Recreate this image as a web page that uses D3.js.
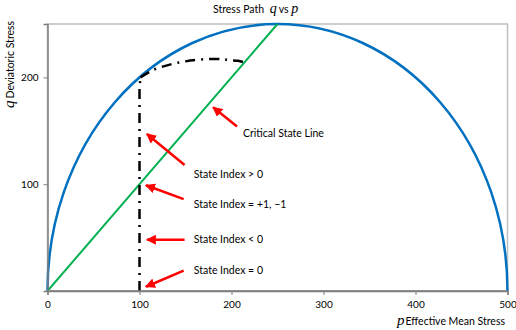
<!DOCTYPE html>
<html><head><meta charset="utf-8">
<script src="https://cdn.jsdelivr.net/npm/d3@7"></script>
<style>
body{margin:0;background:#fff;}
text{font-family:Lato, "Open Sans", sans-serif;fill:#000;}
</style></head>
<body><svg id="c" width="516" height="330"></svg>
<script>
// ---- data ----
const xTicks = [0, 100, 200, 300, 400, 500];
const yTicks = [100, 200];
const yieldCenter = [250, 0];
const yieldRadius = 250;
const cslP = [0, 250];
const cslQ = [0, 250];
const pathP = [100, 100, 101, 115, 133, 150, 171, 190, 198, 207, 214];
const pathQ = [0, 190, 200, 207, 212, 215, 217, 217, 216, 215.5, 214];
const arrowTailP = [206, 149, 148, 149, 148];
const arrowTailQ = [154, 118, 86, 48, 19];
const arrowHeadP = [180, 108, 107, 108, 107];
const arrowHeadQ = [172, 147, 99, 48, 4];
const labelText = ["Critical State Line", "State Index > 0", "State Index = +1, \u22121", "State Index < 0", "State Index = 0"];
const labelP = [212.5, 159, 159, 159, 159];
const labelQ = [144, 105.6, 77.3, 44.6, 15.9];

// ---- layout ----
const W = 516, H = 330;
const m = {left: 47.5, right: 8.5, top: 24, bottom: 39};
const svg = d3.select("#c");
const x = d3.scaleLinear().domain([0, 500]).range([m.left, W - m.right]);
const y = d3.scaleLinear().domain([0, 250]).range([H - m.bottom, m.top]);

// plot border (top/right light)
svg.append("rect").attr("x", x(0)).attr("y", y(250)).attr("width", x(500) - x(0)).attr("height", y(0) - y(250))
  .attr("fill", "none").attr("stroke", "#bfbfbf").attr("stroke-width", 1.5);

svg.append("clipPath").attr("id", "clip").append("rect")
  .attr("x", x(0) - 2).attr("y", y(250) - 2).attr("width", x(500) - x(0) + 4).attr("height", y(0) - y(250) + 2);

const g = svg.append("g").attr("clip-path", "url(#clip)");

// yield surface (semicircle)
g.append("ellipse")
  .attr("cx", x(yieldCenter[0])).attr("cy", y(yieldCenter[1]))
  .attr("rx", x(yieldCenter[0] + yieldRadius) - x(yieldCenter[0]))
  .attr("ry", y(yieldCenter[1]) - y(yieldCenter[1] + yieldRadius))
  .attr("fill", "none").attr("stroke", "#0070C0").attr("stroke-width", 2.5);

// CSL
const line = d3.line().x(d => x(d[0])).y(d => y(d[1]));
g.append("path").datum(cslP.map((p, i) => [p, cslQ[i]])).attr("d", line)
  .attr("fill", "none").attr("stroke", "#00B050").attr("stroke-width", 2);

// stress path
const pts = pathP.map((p, i) => [p, pathQ[i]]);
g.append("path").datum(pts.slice(0, 3)).attr("d", line)
  .attr("fill", "none").attr("stroke", "#000").attr("stroke-width", 2.5).attr("stroke-dasharray", "10,6,2,6");
g.append("path").datum(pts.slice(2)).attr("d", d3.line().x(d => x(d[0])).y(d => y(d[1])).curve(d3.curveCatmullRom))
  .attr("fill", "none").attr("stroke", "#000").attr("stroke-width", 2.5).attr("stroke-dasharray", "10,6,2,6");

// axes
const xAxis = svg.append("g").attr("transform", `translate(0,${y(0)})`)
  .call(d3.axisBottom(x).tickValues(xTicks).tickSize(4).tickPadding(6));
const yAxis = svg.append("g").attr("transform", `translate(${x(0)},0)`)
  .call(d3.axisLeft(y).tickValues(yTicks).tickSize(4).tickPadding(5));
[xAxis, yAxis].forEach(a => {
  a.select(".domain").attr("stroke", "#7f7f7f").attr("stroke-width", 1.5);
  a.selectAll(".tick line").attr("stroke", "#7f7f7f").attr("stroke-width", 1);
  a.selectAll("text").attr("font-family", "Lato, sans-serif").attr("font-size", 10).attr("fill", "#000");
});
svg.append("line").attr("x1", x(0)).attr("x2", x(500)).attr("y1", y(0)).attr("y2", y(0))
  .attr("stroke", "#7f7f7f").attr("stroke-width", 1.5);

// arrows
svg.append("defs").append("marker").attr("id", "ah").attr("viewBox", "0 0 10 10")
  .attr("refX", 9).attr("refY", 5).attr("markerWidth", 4).attr("markerHeight", 4)
  .attr("markerUnits", "strokeWidth").attr("orient", "auto")
  .append("path").attr("d", "M0,0 L10,5 L0,10 z").attr("fill", "#ff0000");
arrowTailP.forEach((p, i) => {
  svg.append("line").attr("x1", x(p)).attr("y1", y(arrowTailQ[i]))
    .attr("x2", x(arrowHeadP[i])).attr("y2", y(arrowHeadQ[i]))
    .attr("stroke", "#ff0000").attr("stroke-width", 2.5).attr("marker-end", "url(#ah)");
});

// labels
labelText.forEach((t, i) => {
  svg.append("text").attr("x", x(labelP[i])).attr("y", y(labelQ[i]))
    .attr("font-size", 10.5).text(t);
});

// title
const title = svg.append("text").attr("x", 213).attr("y", 13).attr("font-size", 10.5);
title.append("tspan").text("Stress Path  ");
title.append("tspan").attr("dx", 3).attr("font-family", "Liberation Serif, serif").attr("font-style", "italic").attr("font-size", 14).text("q");
title.append("tspan").attr("dx", 2).text("vs ");
title.append("tspan").attr("font-family", "Liberation Serif, serif").attr("font-style", "italic").attr("font-size", 14).text("p");

// x label
const xl = svg.append("text").attr("x", 505).attr("y", 325).attr("text-anchor", "end").attr("font-size", 10.5);
xl.append("tspan").attr("font-family", "Liberation Serif, serif").attr("font-style", "italic").attr("font-size", 15).text("p");
xl.append("tspan").attr("dx", 1).text("Effective Mean Stress");

// y label
const yl = svg.append("text").attr("transform", "translate(14,108) rotate(-90)").attr("font-size", 10.5);
yl.append("tspan").attr("font-family", "Liberation Serif, serif").attr("font-style", "italic").attr("font-size", 15).text("q");
yl.append("tspan").attr("dx", 2).text("Deviatoric Stress");
</script></body></html>
